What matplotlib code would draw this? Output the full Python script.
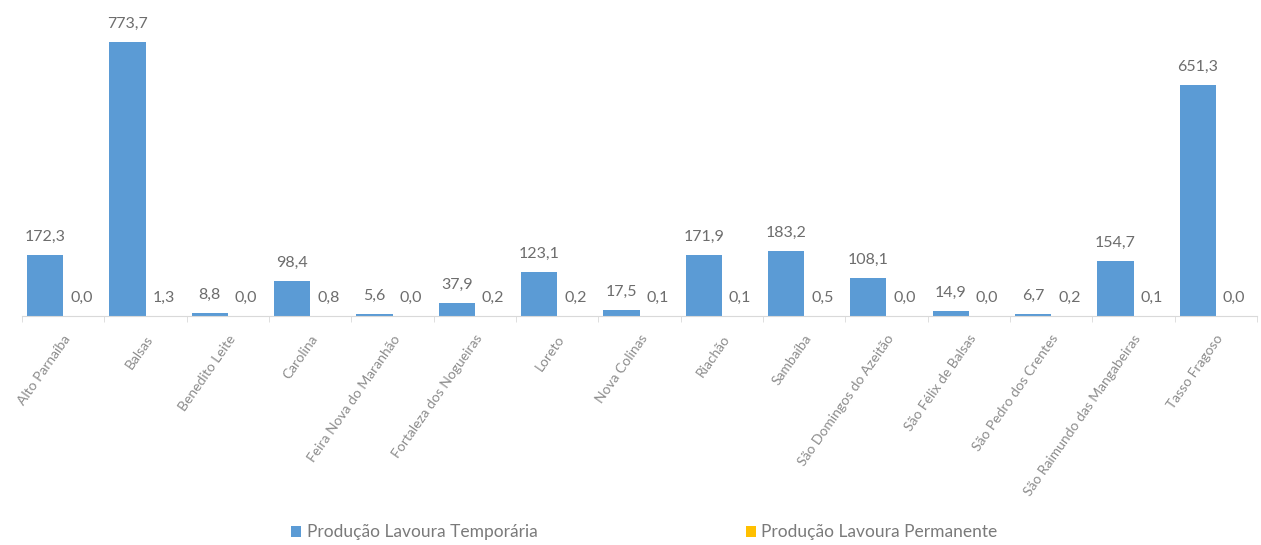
import matplotlib
matplotlib.use("Agg")
import matplotlib.pyplot as plt
import numpy as np

plt.rcParams['font.family'] = ['Lato', 'DejaVu Sans']

municipios = ['Alto Parnaíba', 'Balsas', 'Benedito Leite', 'Carolina',
              'Feira Nova do Maranhão', 'Fortaleza dos Nogueiras', 'Loreto',
              'Nova Colinas', 'Riachão', 'Sambaíba', 'São Domingos do Azeitão',
              'São Félix de Balsas', 'São Pedro dos Crentes',
              'São Raimundo das Mangabeiras', 'Tasso Fragoso']
temporaria = [172.3, 773.7, 8.8, 98.4, 5.6, 37.9, 123.1, 17.5, 171.9, 183.2,
              108.1, 14.9, 6.7, 154.7, 651.3]
permanente = [0.0, 1.3, 0.0, 0.8, 0.0, 0.2, 0.2, 0.1, 0.1, 0.5,
              0.0, 0.0, 0.2, 0.1, 0.0]

azul = '#5B9BD5'
amarelo = '#FFC000'
cinza = '#8c8c8c'

fig = plt.figure(figsize=(12.61, 5.45), dpi=100)
ax = fig.add_axes([22 / 1261, 229 / 545, 1235 / 1261, 316 / 545])

x = np.arange(len(municipios))
w = 0.44
b1 = ax.bar(x - 0.22, temporaria, w, color=azul, label='Produção Lavoura Temporária')
b2 = ax.bar(x + 0.22, permanente, w, color=amarelo, label='Produção Lavoura Permanente')

def fmt(v):
    return f"{v:.1f}".replace('.', ',')

for bars, vals in ((b1, temporaria), (b2, permanente)):
    for r, v in zip(bars, vals):
        ax.annotate(fmt(v), (r.get_x() + r.get_width() / 2, r.get_height()),
                    xytext=(0, 8), textcoords='offset points',
                    ha='center', va='bottom', fontsize=11.5, color='#6d6d6d')

ax.set_xlim(-0.5, len(municipios) - 0.5)
ax.set_ylim(0, 892)
for s in ['top', 'right', 'left']:
    ax.spines[s].set_visible(False)
ax.spines['bottom'].set_color('#d9d9d9')
ax.set_yticks([])
ax.set_xticks(x)
ax.set_xticklabels(municipios, rotation=55, ha='right', rotation_mode='anchor',
                   fontsize=10, color=cinza)
ax.tick_params(axis='x', which='major', length=0, pad=12)
ax.set_xticks(np.arange(len(municipios) + 1) - 0.5, minor=True)
ax.tick_params(axis='x', which='minor', length=4, color='#d9d9d9')

fig.legend(handles=[b1, b2], loc='lower center', bbox_to_anchor=(0.511, -0.02),
           ncol=2, frameon=False, fontsize=12.5, labelcolor='#7a7a7a',
           handlelength=0.6, handleheight=0.6, handletextpad=0.3,
           columnspacing=12)

fig.savefig('out.png', dpi=100)
